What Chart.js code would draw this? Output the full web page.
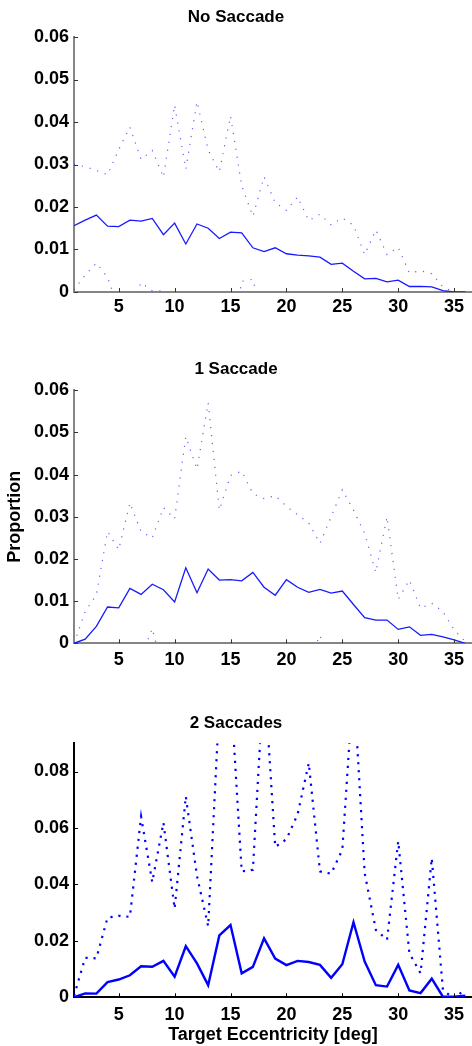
<!DOCTYPE html>
<html lang="en">
  <head>
    <meta charset="UTF-8" />
    <title>Target Eccentricity</title>
    <script src="https://cdn.jsdelivr.net/npm/chart.js"></script>
    <style>
      body {
        margin: 0;
        background: #fff;
        width: 472px;
        height: 1046px;
        overflow: hidden;
        position: relative;
      }
      .panel {
        position: absolute;
        left: 0;
        width: 472px;
      }
      canvas {
        display: block;
      }
    </style>
  </head>
  <body>
    <div class="panel" style="top: 0px"><canvas id="noSac" width="472" height="330"></canvas></div>
    <div class="panel" style="top: 330px"><canvas id="oneSac" width="472" height="350"></canvas></div>
    <div class="panel" style="top: 680px"><canvas id="twoSac" width="472" height="366"></canvas></div>

    <script>
      // eccentricity bins (deg)
      const eccentricity = [
        1, 2, 3, 4, 5, 6, 7, 8, 9, 10, 11, 12, 13, 14, 15, 16, 17, 18,
        19, 20, 21, 22, 23, 24, 25, 26, 27, 28, 29, 30, 31, 32, 33, 34, 35, 36,
      ];
      const xTicks = [5, 10, 15, 20, 25, 30, 35];
      const yTicksSmall = [0, 0.01, 0.02, 0.03, 0.04, 0.05, 0.06];
      const yTicksLarge = [0, 0.02, 0.04, 0.06, 0.08];

      // No Saccade
      const noSacMean = [
        0.0156, 0.0169, 0.0181, 0.0155, 0.0154, 0.0169, 0.0167, 0.0173, 0.0135,
        0.0162, 0.0113, 0.016, 0.015, 0.0126, 0.0141, 0.0139, 0.0104, 0.0095,
        0.0104, 0.009, 0.0087, 0.0085, 0.0082, 0.0065, 0.0068, 0.0049, 0.0031,
        0.0032, 0.0024, 0.0028, 0.0013, 0.0013, 0.0012, 0.0003, 0.0, 0.0,
      ];
      const noSacUpper = [
        0.03, 0.0295, 0.0286, 0.0276, 0.0335, 0.0388, 0.0312, 0.0333, 0.027,
        0.044, 0.0289, 0.0448, 0.0334, 0.0283, 0.0414, 0.025, 0.0178, 0.0271,
        0.021, 0.0192, 0.0224, 0.0168, 0.0183, 0.0158, 0.0174, 0.0157, 0.0088,
        0.0146, 0.0088, 0.0105, 0.0045, 0.005, 0.0043, 0.0012, 0.0, 0.0,
      ];
      const noSacLower = [
        0.0005, 0.004, 0.0068, 0.0035, -0.004, -0.005, 0.0022, 0.0003, 0.0003,
        -0.0115, -0.006, -0.013, -0.003, -0.003, -0.013, 0.0025, 0.003, -0.008,
        -0.0005, -0.001, -0.005, 0.0, -0.002, -0.003, -0.004, -0.006, -0.0025,
        -0.008, -0.004, -0.005, -0.002, -0.003, -0.002, -0.0005, 0.0, 0.0,
      ];

      // 1 Saccade
      const oneSacMean = [
        0.0, 0.001, 0.004, 0.0086, 0.0084, 0.013, 0.0116, 0.014, 0.0127,
        0.0098, 0.0179, 0.012, 0.0176, 0.015, 0.0151, 0.0148, 0.0168, 0.0133,
        0.0114, 0.0151, 0.0133, 0.0121, 0.0128, 0.0119, 0.0124, 0.0092, 0.0061,
        0.0055, 0.0055, 0.0033, 0.0039, 0.0019, 0.0021, 0.0015, 0.0008, 0.0,
      ];
      const oneSacUpper = [
        0.0, 0.0075, 0.0115, 0.0265, 0.0222, 0.0333, 0.0265, 0.025, 0.0322,
        0.0295, 0.049, 0.0413, 0.057, 0.0316, 0.0398, 0.0408, 0.0355, 0.0343,
        0.035, 0.0325, 0.0305, 0.0285, 0.0237, 0.03, 0.0364, 0.0316, 0.026,
        0.0168, 0.03, 0.0104, 0.015, 0.0083, 0.0095, 0.0075, 0.0032, 0.0004,
      ];
      const oneSacLower = [
        -0.001, -0.0055, -0.0035, -0.0093, -0.0054, -0.0073, -0.0033, 0.0035,
        -0.0068, -0.0099, -0.0132, -0.0173, -0.0218, -0.0016, -0.0096, -0.0112,
        -0.0019, -0.0077, -0.0122, -0.0023, -0.0039, -0.0043, 0.0019, -0.0062,
        -0.0116, -0.0132, -0.0138, -0.0058, -0.019, -0.0038, -0.0072, -0.0045,
        -0.0053, -0.0045, -0.0016, -0.0004,
      ];

      // 2 Saccades
      const twoSacMean = [
        0.0, 0.0014, 0.0013, 0.0054, 0.0063, 0.0078, 0.011, 0.0108, 0.0129,
        0.0073, 0.0181, 0.012, 0.0043, 0.0219, 0.0256, 0.0085, 0.0108, 0.0209,
        0.0137, 0.0114, 0.0129, 0.0125, 0.0115, 0.0069, 0.0117, 0.0266, 0.0127,
        0.0043, 0.0038, 0.0115, 0.0024, 0.0015, 0.0066, 0.0002, 0.0002, 0.0006,
      ];
      const twoSacUpper = [
        0.0005, 0.014, 0.0138, 0.0282, 0.0289, 0.0285, 0.064, 0.0408, 0.0619,
        0.0314, 0.0712, 0.043, 0.0252, 0.104, 0.11, 0.0446, 0.0452, 0.115,
        0.0533, 0.056, 0.0648, 0.083, 0.0446, 0.0438, 0.0523, 0.112, 0.044,
        0.0239, 0.0204, 0.0553, 0.0156, 0.0085, 0.0493, 0.0026, -0.0005, 0.003,
      ];

      Chart.defaults.font.family = "'Liberation Sans', Arial, Helvetica, sans-serif";
      Chart.defaults.color = "#000";

      // matlab style ticks pointing into the plot
      const innerTicks = {
        id: "innerTicks",
        afterDraw(chart, args, opts) {
          const { ctx, chartArea: a } = chart;
          const x = chart.scales.x;
          const y = chart.scales.y;
          ctx.save();
          ctx.strokeStyle = opts.color;
          ctx.lineWidth = opts.width;
          ctx.beginPath();
          x.ticks.forEach((t) => {
            const px = Math.round(x.getPixelForValue(t.value)) + 0.5;
            ctx.moveTo(px, a.bottom);
            ctx.lineTo(px, a.bottom - opts.len);
          });
          y.ticks.forEach((t) => {
            const py = Math.round(y.getPixelForValue(t.value)) + 0.5;
            ctx.moveTo(a.left, py);
            ctx.lineTo(a.left + opts.len, py);
          });
          ctx.stroke();
          ctx.restore();
        },
      };

      const tickFont = { size: 18, weight: "bold" };
      const labelFont = { size: 18, weight: "bold" };

      function makePanel(id, cfg) {
        const datasets = cfg.series.map((s) => ({
          data: eccentricity.map((e, i) => ({ x: e, y: s.values[i] })),
          borderColor: s.color,
          borderWidth: s.width,
          borderDash: s.dash || [],
          pointRadius: 0,
          tension: 0,
          fill: false,
        }));

        return new Chart(document.getElementById(id), {
          type: "line",
          data: { datasets: datasets },
          plugins: [innerTicks],
          options: {
            responsive: false,
            animation: false,
            layout: { padding: 0 },
            plugins: {
              legend: { display: false },
              tooltip: { enabled: false },
              title: {
                display: true,
                text: cfg.title,
                color: "#000",
                font: { size: 17, weight: "bold" },
                padding: cfg.titlePad,
              },
              innerTicks: cfg.tickStyle,
            },
            scales: {
              x: {
                type: "linear",
                min: 1,
                max: 36.6,
                afterBuildTicks: (s) => {
                  s.ticks = xTicks.map((v) => ({ value: v }));
                },
                afterFit: (s) => {
                  s.height = cfg.xHeight;
                },
                grid: { display: false, drawTicks: false },
                border: { display: true, color: cfg.axisColor, width: cfg.axisWidth },
                ticks: {
                  padding: cfg.xPad,
                  font: tickFont,
                  color: "#000",
                  maxRotation: 0,
                  autoSkip: false,
                  callback: (v) => String(v),
                },
                title: cfg.xTitle
                  ? {
                      display: true,
                      text: cfg.xTitle,
                      color: "#000",
                      font: labelFont,
                      padding: { top: 0, bottom: 0.5 },
                    }
                  : { display: false },
              },
              y: {
                min: 0,
                max: cfg.yMax,
                afterBuildTicks: (s) => {
                  s.ticks = cfg.yTicks.map((v) => ({ value: v }));
                },
                afterFit: (s) => {
                  s.width = 74;
                },
                grid: { display: false, drawTicks: false },
                border: { display: true, color: cfg.axisColor, width: cfg.axisWidth },
                ticks: {
                  padding: 5,
                  font: tickFont,
                  color: "#000",
                  autoSkip: false,
                  callback: (v) => (v === 0 ? "0" : v.toFixed(2)),
                },
                title: cfg.yTitle
                  ? {
                      display: true,
                      text: cfg.yTitle,
                      color: "#000",
                      font: labelFont,
                      padding: { top: 4.2, bottom: 0 },
                    }
                  : { display: false },
              },
            },
          },
        });
      }

      const thinMean = "rgb(25,25,255)";
      const thinDots = "rgba(45,45,255,0.75)";

      makePanel("noSac", {
        title: "No Saccade",
        titlePad: { top: 6.8, bottom: 9.8 },
        xHeight: 38,
        xPad: 4,
        yMax: 0.06,
        yTicks: yTicksSmall,
        axisColor: "#858585",
        axisWidth: 2,
        tickStyle: { len: 4, color: "#333", width: 1 },
        series: [
          { values: noSacUpper, color: thinDots, width: 1.2, dash: [1.2, 6.8] },
          { values: noSacLower, color: thinDots, width: 1.2, dash: [1.2, 6.8] },
          { values: noSacMean, color: thinMean, width: 1.3 },
        ],
      });

      makePanel("oneSac", {
        title: "1 Saccade",
        titlePad: { top: 29.5, bottom: 10.4 },
        xHeight: 36.7,
        xPad: 5.7,
        yMax: 0.06,
        yTicks: yTicksSmall,
        yTitle: "Proportion",
        axisColor: "#858585",
        axisWidth: 2,
        tickStyle: { len: 4, color: "#333", width: 1 },
        series: [
          { values: oneSacUpper, color: thinDots, width: 1.2, dash: [1.2, 6.8] },
          { values: oneSacLower, color: thinDots, width: 1.2, dash: [1.2, 6.8] },
          { values: oneSacMean, color: thinMean, width: 1.3 },
        ],
      });

      makePanel("twoSac", {
        title: "2 Saccades",
        titlePad: { top: 33.1, bottom: 9.8 },
        xHeight: 48.7,
        xPad: 6.7,
        yMax: 0.09,
        yTicks: yTicksLarge,
        xTitle: "Target Eccentricity [deg]",
        axisColor: "#000",
        axisWidth: 2,
        tickStyle: { len: 4, color: "#000", width: 1 },
        series: [
          { values: twoSacUpper, color: "#0000ff", width: 2.2, dash: [2.2, 5.8] },
          { values: twoSacMean, color: "#0000ff", width: 2.4 },
        ],
      });
    </script>
  </body>
</html>
